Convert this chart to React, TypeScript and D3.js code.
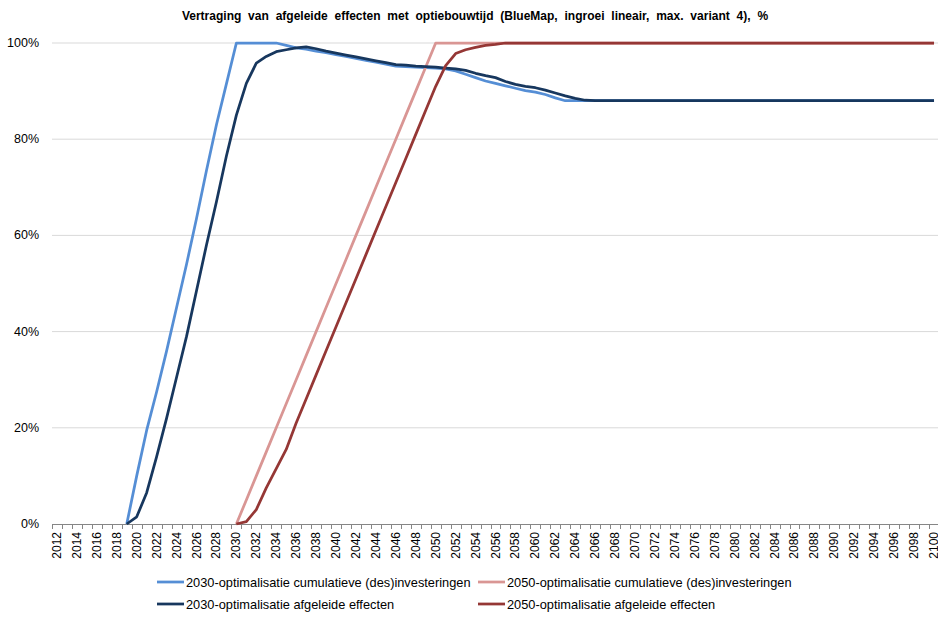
import React from "react";
import * as d3 from "d3";

const title =
  "Vertraging van afgeleide effecten met optiebouwtijd (BlueMap, ingroei lineair, max. variant 4), %";

const years: number[] = [
  2012, 2013, 2014, 2015, 2016, 2017, 2018, 2019, 2020, 2021, 2022, 2023, 2024, 2025, 2026, 2027,
  2028, 2029, 2030, 2031, 2032, 2033, 2034, 2035, 2036, 2037, 2038, 2039, 2040, 2041, 2042, 2043,
  2044, 2045, 2046, 2047, 2048, 2049, 2050, 2051, 2052, 2053, 2054, 2055, 2056, 2057, 2058, 2059,
  2060, 2061, 2062, 2063, 2064, 2065, 2066, 2067, 2068, 2069, 2070, 2071, 2072, 2073, 2074, 2075,
  2076, 2077, 2078, 2079, 2080, 2081, 2082, 2083, 2084, 2085, 2086, 2087, 2088, 2089, 2090, 2091,
  2092, 2093, 2094, 2095, 2096, 2097, 2098, 2099, 2100,
];

const _ = null;

// 2030-optimalisatie cumulatieve (des)investeringen
const cum2030: (number | null)[] = [
  _, _, _, _, _, _, _, 0, 10, 19.5, 27.5, 36, 45, 54, 63.5, 73.5,
  83, 91.5, 100, 100, 100, 100, 100, 99.5, 99.0, 98.7, 98.3, 98.0, 97.6, 97.2, 96.8, 96.4,
  96.0, 95.6, 95.2, 95.1, 95.0, 94.9, 94.8, 94.6, 94.2, 93.5, 92.8, 92.1, 91.6, 91.1, 90.6, 90.1,
  89.8, 89.3, 88.6, 88.0, 88, 88, 88, 88, 88, 88, 88, 88, 88, 88, 88, 88,
  88, 88, 88, 88, 88, 88, 88, 88, 88, 88, 88, 88, 88, 88, 88, 88,
  88, 88, 88, 88, 88, 88, 88, 88, 88,
];

// 2050-optimalisatie cumulatieve (des)investeringen
const cum2050: (number | null)[] = [
  _, _, _, _, _, _, _, _, _, _, _, _, _, _, _, _,
  _, _, 0, 5, 10, 15, 20, 25, 30, 35, 40, 45, 50, 55, 60, 65,
  70, 75, 80, 85, 90, 95, 100, 100, 100, 100, 100, 100, 100, 100, 100, 100,
  100, 100, 100, 100, 100, 100, 100, 100, 100, 100, 100, 100, 100, 100, 100, 100,
  100, 100, 100, 100, 100, 100, 100, 100, 100, 100, 100, 100, 100, 100, 100, 100,
  100, 100, 100, 100, 100, 100, 100, 100, 100,
];

// 2030-optimalisatie afgeleide effecten
const eff2030: (number | null)[] = [
  _, _, _, _, _, _, _, 0, 1.5, 6.5, 14, 22, 30.5, 39, 48.5, 58,
  67, 76.5, 85, 91.6, 95.8, 97.2, 98.2, 98.6, 99.0, 99.2, 98.8, 98.3, 97.9, 97.5, 97.1, 96.7,
  96.3, 95.9, 95.5, 95.4, 95.2, 95.1, 95.0, 94.8, 94.6, 94.3, 93.7, 93.2, 92.8, 92.0, 91.4, 91.0,
  90.7, 90.2, 89.6, 89.0, 88.5, 88.1, 88, 88, 88, 88, 88, 88, 88, 88, 88, 88,
  88, 88, 88, 88, 88, 88, 88, 88, 88, 88, 88, 88, 88, 88, 88, 88,
  88, 88, 88, 88, 88, 88, 88, 88, 88,
];

// 2050-optimalisatie afgeleide effecten
const eff2050: (number | null)[] = [
  _, _, _, _, _, _, _, _, _, _, _, _, _, _, _, _,
  _, _, 0, 0.5, 3, 7.5, 11.5, 15.5, 21, 26, 31, 36, 41, 46, 51, 56,
  61, 66, 71, 76, 81, 86, 91, 95.3, 97.8, 98.6, 99.1, 99.5, 99.7, 100, 100, 100,
  100, 100, 100, 100, 100, 100, 100, 100, 100, 100, 100, 100, 100, 100, 100, 100,
  100, 100, 100, 100, 100, 100, 100, 100, 100, 100, 100, 100, 100, 100, 100, 100,
  100, 100, 100, 100, 100, 100, 100, 100, 100,
];

const yTicks: number[] = [0, 20, 40, 60, 80, 100];

const seriesNames: string[] = [
  "2030-optimalisatie cumulatieve (des)investeringen",
  "2050-optimalisatie cumulatieve (des)investeringen",
  "2030-optimalisatie afgeleide effecten",
  "2050-optimalisatie afgeleide effecten",
];
const seriesValues: (number | null)[][] = [cum2030, cum2050, eff2030, eff2050];
const seriesColors: string[] = ["#558ED5", "#D99694", "#17375E", "#953735"];

const W = 938;
const H = 617;
const FONT = "'Liberation Sans', Arial, sans-serif";

export default function App() {
  const left = 52;
  const right = 939;
  const top = 43;
  const bottom = 524;

  const x = d3
    .scaleBand<string>()
    .domain(years.map(String))
    .range([left, right])
    .padding(0);
  const bw = x.bandwidth();
  const cx = (yr: number) => (x(String(yr)) as number) + bw / 2;
  const y = d3.scaleLinear().domain([0, 100]).range([bottom, top]);

  const line = d3
    .line<[number, number | null]>()
    .defined((d) => d[1] !== null)
    .x((d) => cx(d[0]))
    .y((d) => y(d[1] as number));

  const legendPos = [
    { lx: 157, ty: 582 },
    { lx: 478, ty: 582 },
    { lx: 157, ty: 604 },
    { lx: 478, ty: 604 },
  ];

  return (
    <svg
      width={W}
      height={H}
      style={{ position: "absolute", left: 0, top: 0, background: "#fff" }}
      fontFamily={FONT}
    >
      <rect x={0} y={0} width={W} height={H} fill="#fff" />
      <text
        x={475}
        y={20}
        textAnchor="middle"
        fontSize={12}
        fontWeight="bold"
        fill="#000"
        style={{ wordSpacing: "3.5px" }}
      >
        {title}
      </text>

      {yTicks.map((t) => (
        <g key={t}>
          {t > 0 && (
            <line x1={left} x2={right} y1={y(t)} y2={y(t)} stroke="#D9D9D9" strokeWidth={1} />
          )}
          <text
            x={39}
            y={y(t)}
            textAnchor="end"
            dominantBaseline="central"
            fontSize={12.5}
            fill="#000"
          >
            {t}%
          </text>
        </g>
      ))}

      <line x1={left} x2={right} y1={bottom + 0.5} y2={bottom + 0.5} stroke="#868686" strokeWidth={1} />
      {years.map((yr, i) => (
        <line
          key={"t" + yr}
          x1={Math.round(left + i * bw) + 0.5}
          x2={Math.round(left + i * bw) + 0.5}
          y1={bottom}
          y2={bottom + 5}
          stroke="#868686"
          strokeWidth={1}
        />
      ))}
      {years
        .filter((yr) => yr % 2 === 0)
        .map((yr) => (
          <text
            key={"l" + yr}
            transform={`translate(${cx(yr)},${bottom + 8}) rotate(-90)`}
            textAnchor="end"
            dominantBaseline="central"
            fontSize={12}
            fill="#000"
          >
            {yr}
          </text>
        ))}

      {seriesValues.map((vals, si) => (
        <path
          key={"s" + si}
          d={line(years.map((yr, i) => [yr, vals[i]] as [number, number | null])) || ""}
          fill="none"
          stroke={seriesColors[si]}
          strokeWidth={2.75}
          strokeLinejoin="round"
        />
      ))}

      {seriesNames.map((name, si) => (
        <g key={"lg" + si}>
          <line
            x1={legendPos[si].lx}
            x2={legendPos[si].lx + 27}
            y1={legendPos[si].ty}
            y2={legendPos[si].ty}
            stroke={seriesColors[si]}
            strokeWidth={2.75}
          />
          <text
            x={legendPos[si].lx + 29}
            y={legendPos[si].ty}
            dominantBaseline="central"
            fontSize={12.8}
            fill="#000"
          >
            {name}
          </text>
        </g>
      ))}
    </svg>
  );
}
